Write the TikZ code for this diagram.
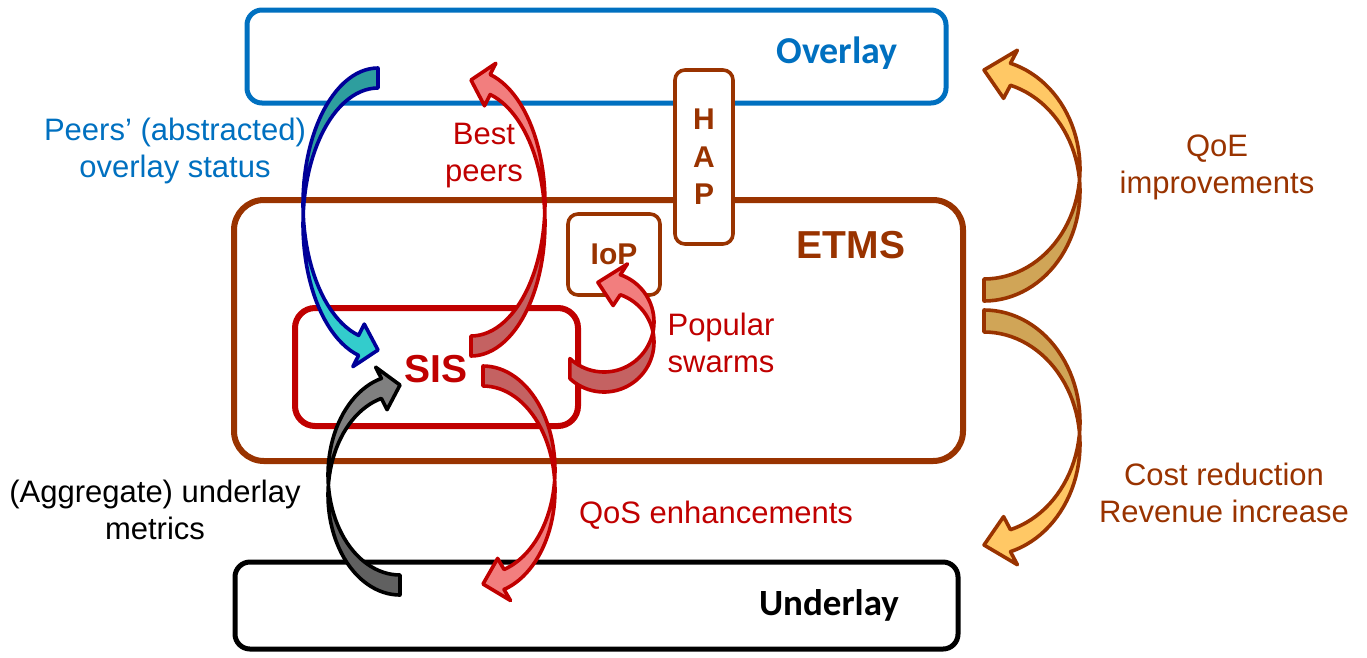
\documentclass[tikz,border=0pt]{standalone}
\usepackage{fontspec}
\setmainfont{Liberation Sans}
\newfontfamily\calfont{Carlito}
\usepackage{xcolor}
\usepackage{tikz}
\usetikzlibrary{positioning}

\definecolor{ovblue}{HTML}{0070C0}
\definecolor{sisred}{HTML}{C00000}
\definecolor{etbrown}{HTML}{993300}
\definecolor{cyD}{HTML}{2E9E9E}
\definecolor{cyL}{HTML}{33CCCC}
\definecolor{cyO}{HTML}{000099}
\definecolor{rdD}{HTML}{C46262}
\definecolor{rdL}{HTML}{F27E7E}
\definecolor{rdO}{HTML}{C00000}
\definecolor{gyD}{HTML}{606060}
\definecolor{gyL}{HTML}{808080}
\definecolor{gyO}{HTML}{000000}
\definecolor{orD}{HTML}{D0A557}
\definecolor{orL}{HTML}{FFC865}
\definecolor{orO}{HTML}{993300}

% curved block arrow: cx, cy, rx, ry, tail angle, crossing angle, head angle, tip angle, colour set
\def\bw{10}\def\bh{12}
\newcommand{\bandarrow}[9]{%
  \pgfmathsetmacro{\bs}{sin(#7)<0 ? -1 : 1}%
  \pgfmathsetmacro{\bo}{\bw+\bh}%
  \coordinate (bA) at ({#1+(#3-(\bs)*\bo)*cos(#7)},{#2+(#4-(\bs)*\bo)*sin(#7)});%
  \coordinate (bB) at ({#1+(#3+(\bs)*\bo)*cos(#7)},{#2+(#4+(\bs)*\bo)*sin(#7)});%
  \coordinate (bT) at ({#1+#3*cos(#8)},{#2+#4*sin(#8)});%
  \fill[#9D] plot[domain=#5:#6, samples=30, variable=\tta] ({#1+#3*cos(\tta)},{#2-\bw+#4*sin(\tta)})
    -- plot[domain=#6:#5, samples=30, variable=\tta] ({#1+#3*cos(\tta)},{#2+\bw+#4*sin(\tta)}) -- cycle;%
  \fill[#9L] plot[domain=#6:#7, samples=30, variable=\tta] ({#1+#3*cos(\tta)},{#2-\bw+#4*sin(\tta)})
    -- (bA) -- (bT) -- (bB)
    -- plot[domain=#7:#6, samples=30, variable=\tta] ({#1+#3*cos(\tta)},{#2+\bw+#4*sin(\tta)}) -- cycle;%
  \draw[#9O, line width=3.6pt, line join=round] plot[domain=#5:#7, samples=50, variable=\tta] ({#1+#3*cos(\tta)},{#2-\bw+#4*sin(\tta)})
    -- (bA) -- (bT) -- (bB)
    -- plot[domain=#7:#5, samples=50, variable=\tta] ({#1+#3*cos(\tta)},{#2+\bw+#4*sin(\tta)}) -- cycle;%
}

\begin{document}
\begin{tikzpicture}[x=1pt, y=-1pt,
  box/.style={draw, fill=white, inner sep=0pt},
  lbl/.style={font=\fontsize{31}{37}\selectfont, align=center},
  ttl/.style={font=\bfseries\fontsize{39}{44}\selectfont, anchor=base}
]
  \useasboundingbox (0,0) rectangle (1367,657);

  \node[box, draw=ovblue, line width=5pt, rounded corners=15pt,
        minimum width=699pt, minimum height=93pt] (overlay) at (596.5,56.5) {};
  \node[box, draw=etbrown, line width=6pt, rounded corners=30pt,
        minimum width=729pt, minimum height=261pt] (etms) at (598.5,330.5) {};
  \node[box, draw=sisred, line width=6pt, rounded corners=20pt,
        minimum width=283pt, minimum height=118pt] (sis) at (436.5,367) {};
  \node[box, draw=black, line width=5pt, rounded corners=15pt,
        minimum width=723pt, minimum height=87pt] (underlay) at (596.5,605.5) {};
  \node[box, draw=etbrown, line width=3.6pt, rounded corners=10pt,
        minimum width=58pt, minimum height=174pt, text=etbrown, align=center,
        font=\bfseries\fontsize{30}{37.5}\selectfont] (hap) at (704,157) {H\\A\\P};
  \node[box, draw=etbrown, line width=3.6pt, rounded corners=10pt,
        minimum width=92pt, minimum height=81pt, text=etbrown,
        font=\bfseries\fontsize{30}{36}\selectfont] (iop) at (614,254.5) {IoP};

  \bandarrow{378}{214}{75}{136}{270}{180}{105}{90}{cy}
  \bandarrow{471}{213}{74}{133}{90}{0}{-75}{-90}{rd}
  \bandarrow{604}{332}{50}{50}{133}{0}{-71}{-97}{rd}
  \bandarrow{400}{485}{72}{100}{90}{180}{255}{270}{gy}
  \bandarrow{483}{480}{72}{104}{-90}{0}{73}{90}{rd}
  \def\bw{11}\def\bh{14}
  \bandarrow{984}{180}{96}{110}{90}{0}{-74}{-90}{or}
  \bandarrow{984}{433}{96}{112}{-90}{0}{74}{90}{or}

  \node[ttl, font=\calfont\bfseries\fontsize{38}{44}\selectfont, text=ovblue] (ovname) at (837,63) {Overlay};
  \node[ttl, text=etbrown] (etname) at (851,258) {ETMS};
  \node[ttl, text=sisred] (sisname) at (436,382) {SIS};
  \node[ttl, font=\calfont\bfseries\fontsize{37}{44}\selectfont] (ulname) at (829,615) {Underlay};

  \node[lbl, text=ovblue] (ovstatus) at (175,151) {Peers’ (abstracted)\\overlay status};
  \node[lbl, text=sisred] (bestpeers) at (484,156) {Best\\peers};
  \node[lbl, text=sisred] (popular) at (721,343) {Popular\\swarms};
  \node[lbl, text=etbrown] (qoe) at (1217,167) {QoE\\improvements};
  \node[lbl, text=etbrown] (cost) at (1224,493) {Cost reduction\\Revenue increase};
  \node[lbl] (metrics) at (155,510) {(Aggregate) underlay\\metrics};
  \node[lbl, text=sisred, anchor=base] (qos) at (716,523) {QoS enhancements};
\end{tikzpicture}
\end{document}
